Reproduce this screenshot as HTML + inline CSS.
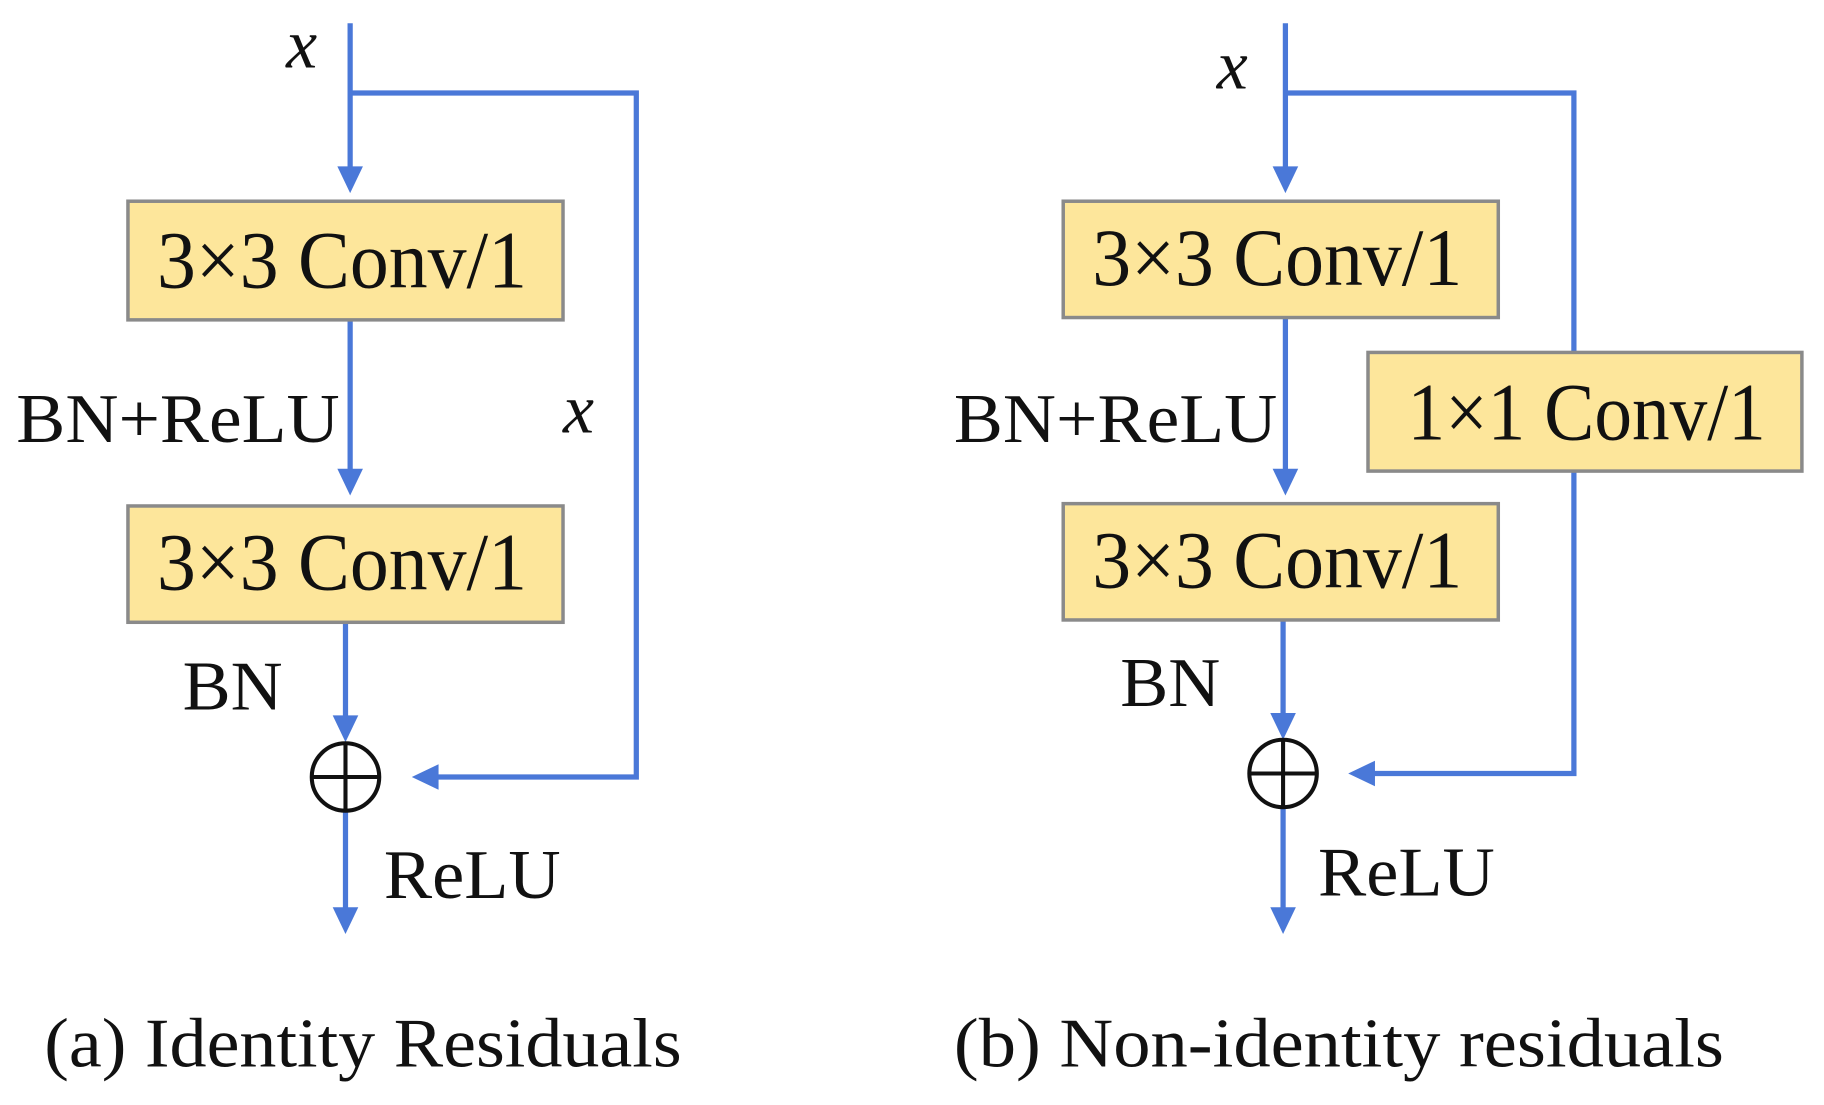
<!DOCTYPE html>
<html><head><meta charset="utf-8"><style>html,body{margin:0;padding:0;background:#fff}svg{display:block}</style></head>
<body>
<svg width="1824" height="1105" viewBox="0 0 1568 950" preserveAspectRatio="none" xmlns="http://www.w3.org/2000/svg" font-family="Liberation Serif, serif">
<g stroke="#4a78d8" stroke-width="4.5" fill="none">
<path d="M301 20 V150"/>
<path d="M301 80 H547 V668 H370"/>
<path d="M301 275 V410"/>
<path d="M297 535 V622"/>
<path d="M297 698 V785"/>
<path d="M1105 20 V150"/>
<path d="M1105 80 H1353 V303"/>
<path d="M1353 405 V665 H1175"/>
<path d="M1105 273 V410"/>
<path d="M1103 533 V620"/>
<path d="M1103 695 V785"/>
</g>
<g fill="#4a78d8">
<path d="M290 143 L312 143 L301 166 Z"/>
<path d="M290 403 L312 403 L301 426 Z"/>
<path d="M286 615 L308 615 L297 638 Z"/>
<path d="M286 780 L308 780 L297 803 Z"/>
<path d="M377 657 L377 679 L354 668 Z"/>
<path d="M1094 143 L1116 143 L1105 166 Z"/>
<path d="M1094 403 L1116 403 L1105 426 Z"/>
<path d="M1092 613 L1114 613 L1103 636 Z"/>
<path d="M1092 780 L1114 780 L1103 803 Z"/>
<path d="M1182 654 L1182 676 L1159 665 Z"/>
</g>
<g fill="#fde69b" stroke="#8a8a8a" stroke-width="3">
<rect x="110" y="173" width="374" height="102"/>
<rect x="110" y="435" width="374" height="100"/>
<rect x="914" y="173" width="374" height="100"/>
<rect x="914" y="433" width="374" height="100"/>
<rect x="1176" y="303" width="373" height="102"/>
</g>
<g fill="none" stroke="#111" stroke-width="3.5">
<circle cx="297" cy="668" r="29"/><path d="M268 668 H326 M297 639 V697"/>
<circle cx="1103" cy="665" r="29"/><path d="M1074 665 H1132 M1103 636 V694"/>
</g>
<g fill="#111" font-size="70">
<text x="135" y="247" textLength="318" lengthAdjust="spacingAndGlyphs">3×3 Conv/1</text>
<text x="135" y="507" textLength="318" lengthAdjust="spacingAndGlyphs">3×3 Conv/1</text>
<text x="939" y="245" textLength="318" lengthAdjust="spacingAndGlyphs">3×3 Conv/1</text>
<text x="939" y="505" textLength="318" lengthAdjust="spacingAndGlyphs">3×3 Conv/1</text>
<text x="1210" y="378" textLength="308" lengthAdjust="spacingAndGlyphs">1×1 Conv/1</text>
</g>
<g fill="#111" font-size="60">
<text x="246" y="58" font-style="italic">x</text>
<text x="484" y="372" font-style="italic">x</text>
<text x="1046" y="76" font-style="italic">x</text>
<text x="14" y="380" textLength="278" lengthAdjust="spacingAndGlyphs">BN+ReLU</text>
<text x="820" y="380" textLength="278" lengthAdjust="spacingAndGlyphs">BN+ReLU</text>
<text x="157" y="610" textLength="86" lengthAdjust="spacingAndGlyphs">BN</text>
<text x="963" y="607" textLength="86" lengthAdjust="spacingAndGlyphs">BN</text>
<text x="330" y="772" textLength="152" lengthAdjust="spacingAndGlyphs">ReLU</text>
<text x="1133" y="770" textLength="152" lengthAdjust="spacingAndGlyphs">ReLU</text>
<text x="38" y="917" textLength="548" lengthAdjust="spacingAndGlyphs">(a) Identity Residuals</text>
<text x="820" y="917" textLength="662" lengthAdjust="spacingAndGlyphs">(b) Non-identity residuals</text>
</g>
</svg>
</body></html>
